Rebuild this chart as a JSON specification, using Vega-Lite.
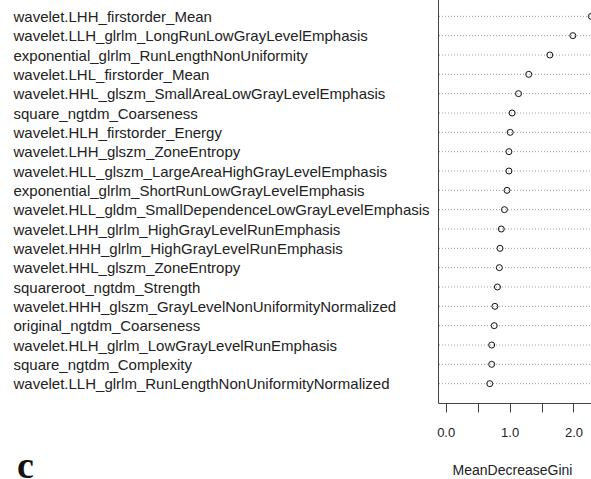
{
  "$schema": "https://vega.github.io/schema/vega-lite/v6.json",
  "width": 170,
  "height": 406,
  "autosize": {"type": "none"},
  "padding": {"left": 438, "top": -3, "right": -17, "bottom": 76},
  "background": "white",
  "config": {
    "view": {"stroke": "#444", "strokeWidth": 1},
    "font": "Liberation Sans"
  },
  "title": {
    "text": "c",
    "orient": "bottom",
    "anchor": "start",
    "frame": "bounds",
    "font": "Liberation Serif",
    "fontSize": 38,
    "fontWeight": "bold",
    "color": "#111",
    "baseline": "alphabetic",
    "offset": 0,
    "dx": 4,
    "dy": 1
  },
  "data": {
    "values": [
      {"feature": "wavelet.LHH_firstorder_Mean", "gini": 2.28},
      {"feature": "wavelet.LLH_glrlm_LongRunLowGrayLevelEmphasis", "gini": 1.99},
      {"feature": "exponential_glrlm_RunLengthNonUniformity", "gini": 1.63},
      {"feature": "wavelet.LHL_firstorder_Mean", "gini": 1.30},
      {"feature": "wavelet.HHL_glszm_SmallAreaLowGrayLevelEmphasis", "gini": 1.14},
      {"feature": "square_ngtdm_Coarseness", "gini": 1.04},
      {"feature": "wavelet.HLH_firstorder_Energy", "gini": 1.01},
      {"feature": "wavelet.LHH_glszm_ZoneEntropy", "gini": 0.99},
      {"feature": "wavelet.HLL_glszm_LargeAreaHighGrayLevelEmphasis", "gini": 0.99},
      {"feature": "exponential_glrlm_ShortRunLowGrayLevelEmphasis", "gini": 0.96},
      {"feature": "wavelet.HLL_gldm_SmallDependenceLowGrayLevelEmphasis", "gini": 0.92},
      {"feature": "wavelet.LHH_glrlm_HighGrayLevelRunEmphasis", "gini": 0.87},
      {"feature": "wavelet.HHH_glrlm_HighGrayLevelRunEmphasis", "gini": 0.85},
      {"feature": "wavelet.HHL_glszm_ZoneEntropy", "gini": 0.84},
      {"feature": "squareroot_ngtdm_Strength", "gini": 0.81},
      {"feature": "wavelet.HHH_glszm_GrayLevelNonUniformityNormalized", "gini": 0.77},
      {"feature": "original_ngtdm_Coarseness", "gini": 0.76},
      {"feature": "wavelet.HLH_glrlm_LowGrayLevelRunEmphasis", "gini": 0.72},
      {"feature": "square_ngtdm_Complexity", "gini": 0.72},
      {"feature": "wavelet.LLH_glrlm_RunLengthNonUniformityNormalized", "gini": 0.69}
    ]
  },
  "encoding": {
    "y": {
      "field": "feature",
      "type": "ordinal",
      "sort": null,
      "scale": {"type": "point", "padding": 1},
      "axis": {
        "title": null,
        "domain": false,
        "ticks": false,
        "labelAlign": "left",
        "labelPadding": 425,
        "labelFont": "Liberation Sans",
        "labelFontSize": 15,
        "labelColor": "#222",
        "labelLimit": 0
      }
    }
  },
  "layer": [
    {
      "mark": {"type": "rule", "strokeDash": [1, 2], "color": "#9a9a9a", "strokeWidth": 1},
      "encoding": {}
    },
    {
      "mark": {"type": "point", "shape": "circle", "filled": false, "color": "#111", "strokeWidth": 1, "size": 36, "opacity": 1},
      "encoding": {
        "x": {
          "field": "gini",
          "type": "quantitative",
          "scale": {"domain": [-0.12, 2.54], "nice": false, "zero": false},
          "axis": {
            "title": "MeanDecreaseGini",
            "values": [0, 0.5, 1, 1.5, 2],
            "labelExpr": "datum.value % 1 == 0 ? format(datum.value, '.1f') : ''",
            "grid": false,
            "domain": false,
            "tickColor": "#444",
            "tickSize": 9,
            "labelPadding": 14,
            "labelFont": "Liberation Sans",
            "labelFontSize": 13,
            "labelColor": "#222",
            "titleFont": "Liberation Sans",
            "titleFontSize": 14,
            "titleFontWeight": "normal",
            "titleColor": "#222",
            "titleX": 74,
            "titleY": 67,
            "titleBaseline": "middle",
            "titleAnchor": null
          }
        }
      }
    }
  ]
}
